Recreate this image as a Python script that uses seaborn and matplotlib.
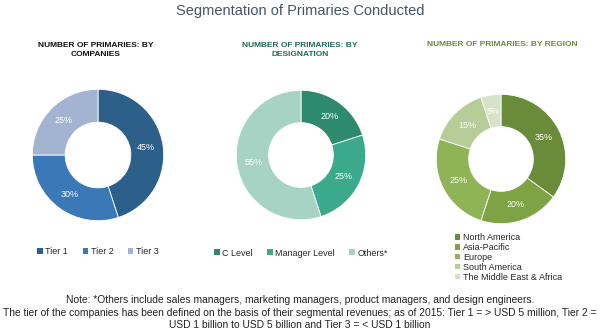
import matplotlib
matplotlib.use("Agg")
import matplotlib.pyplot as plt
import seaborn as sns
from matplotlib.patches import Patch

sns.set_theme(style="white")
plt.rcParams['font.family'] = ['Liberation Sans', 'DejaVu Sans']

companies = ["Tier 1", "Tier 2", "Tier 3"]
companies_vals = [45, 30, 25]
designation = ["C Level", "Manager Level", "Others*"]
designation_vals = [20, 25, 55]
region = ["North America", "Asia-Pacific", "Europe", "South America", "The Middle East & Africa"]
region_vals = [35, 20, 25, 15, 5]

col_comp = ["#2D5F8B", "#3A78B8", "#A2B4D2"]
col_des = ["#2E8A6C", "#3BA98C", "#A6D3C4"]
col_reg = ["#6A8C3A", "#7DA344", "#8FB456", "#B7CD98", "#D6E3C8"]

W, H = 600, 332
fig = plt.figure(figsize=(6, 3.32), dpi=100)

def donut(cx, cy, r, vals, cols):
    ax = fig.add_axes([(cx - r) / W, 1 - (cy + r) / H, 2 * r / W, 2 * r / H])
    wedges, texts = ax.pie(vals, colors=cols, startangle=90, counterclock=False,
                           radius=1, wedgeprops=dict(width=0.5, edgecolor="white", linewidth=0.6),
                           labels=[f"{v}%" for v in vals], labeldistance=0.74,
                           textprops=dict(color="white", fontsize=6.5))
    for t in texts:
        t.set_ha("center"); t.set_va("center")
    ax.set_xlim(-1.02, 1.02); ax.set_ylim(-1.02, 1.02)
    ax.set_aspect("equal")
    ax.axis("off")
    return ax

donut(98, 155, 67, companies_vals, col_comp)
donut(301, 155, 66, designation_vals, col_des)
donut(501, 159, 66, region_vals, col_reg)

fig.text(0.5, 1 - 11 / H, "Segmentation of Primaries Conducted", ha="center", va="center",
         fontsize=10.5, color="#44546A")

sub_kw = dict(ha="center", va="center", fontsize=6, fontweight="bold",
              linespacing=1.3, family=["Liberation Sans Narrow", "Liberation Sans", "DejaVu Sans"])
fig.text(96 / W, 1 - 50 / H, "NUMBER OF PRIMARIES: BY\nCOMPANIES", color="#111111", **sub_kw)
fig.text(300 / W, 1 - 50 / H, "NUMBER OF PRIMARIES: BY\nDESIGNATION", color="#1E6B57", **sub_kw)
fig.text(502 / W, 1 - 44 / H, "NUMBER OF PRIMARIES: BY REGION", color="#6E8B3D", **sub_kw)

def legend(items, cols, x, y, ncol, loc):
    handles = [Patch(facecolor=c, edgecolor="none") for c in cols]
    fig.legend(handles, items, loc=loc, bbox_to_anchor=(x / W, 1 - y / H), ncol=ncol,
               frameon=False, fontsize=6.5, handlelength=0.6, handleheight=0.6,
               handletextpad=0.3, columnspacing=1.6, labelspacing=0.1, borderaxespad=0,
               borderpad=0)

legend(companies, col_comp, 98, 252, 3, "center")
legend(designation, col_des, 301, 253, 3, "center")
legend(region, col_reg, 455, 233, 1, "upper left")

note_kw = dict(ha="center", va="center", fontsize=7.4, color="#222222")
fig.text(0.5, 1 - 300 / H, "Note: *Others include sales managers, marketing managers, product managers, and design engineers.", **note_kw)
fig.text(0.5, 1 - 313 / H, "The tier of the companies has been defined on the basis of their segmental revenues; as of 2015: Tier 1 = > USD 5 million, Tier 2 =", **note_kw)
fig.text(0.5, 1 - 325 / H, "USD 1 billion to USD 5 billion and Tier 3 = < USD 1 billion", **note_kw)

fig.savefig("out.png", dpi=100)
